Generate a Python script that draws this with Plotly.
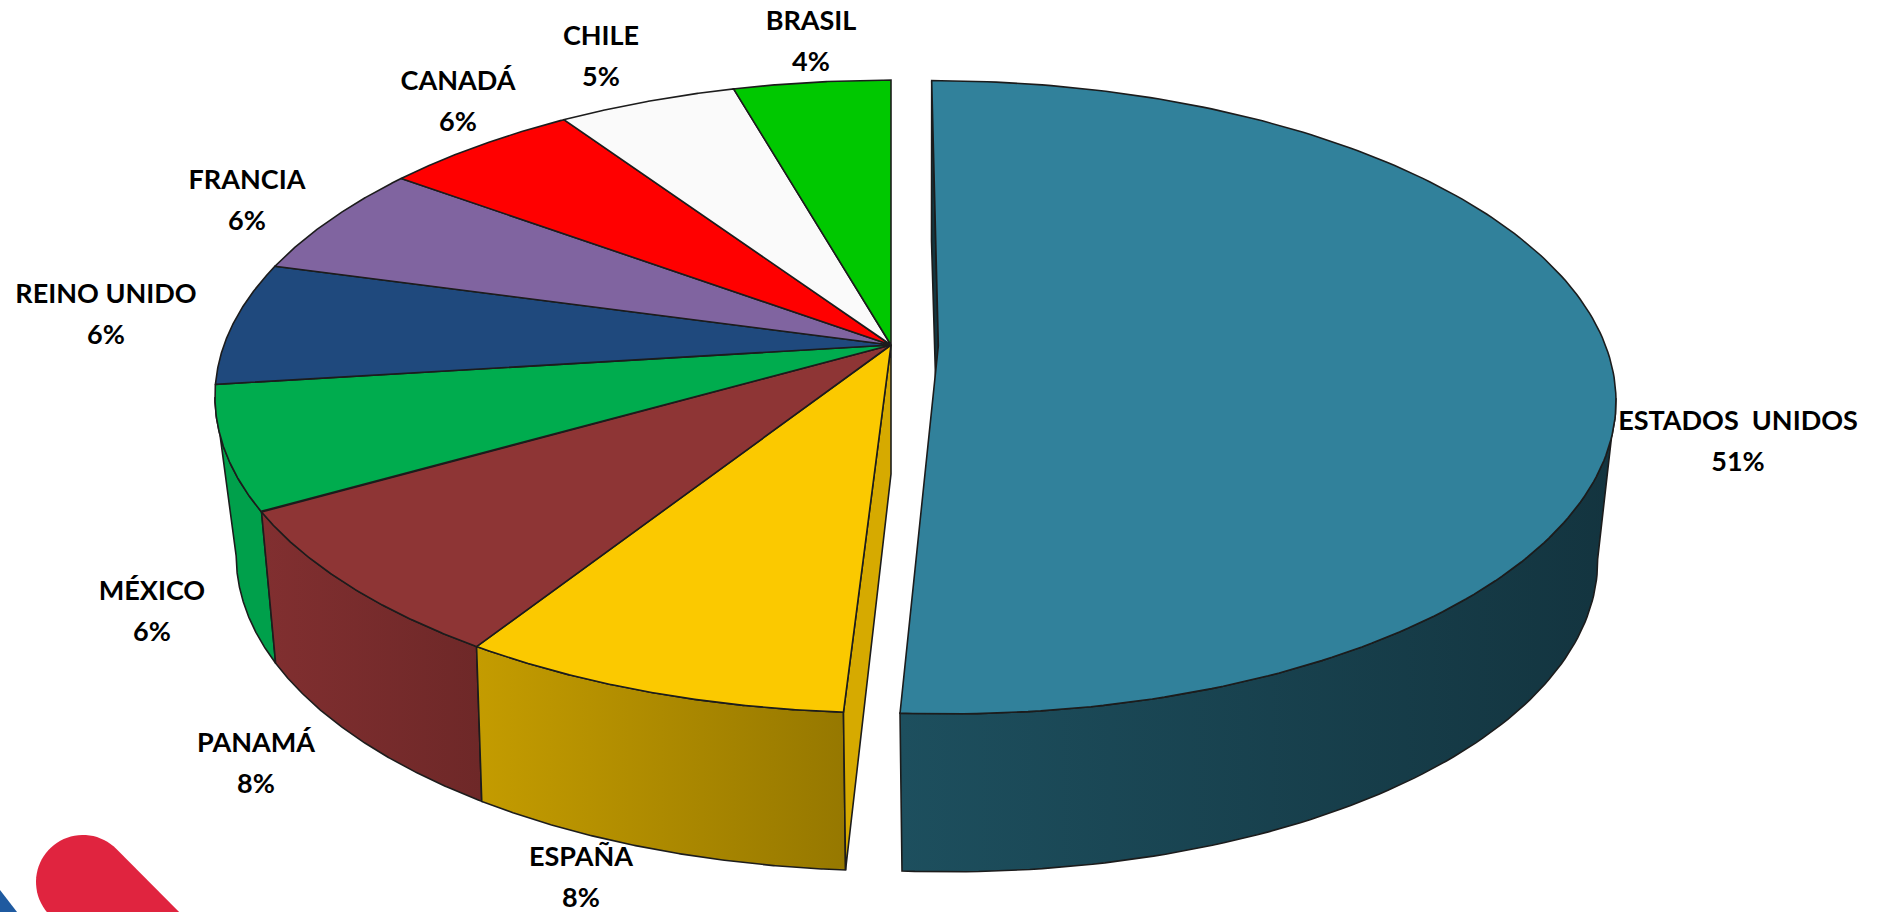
import numpy as np
import plotly.graph_objects as go

# ---- data ----
countries = ["ESTADOS  UNIDOS", "ESPAÑA", "PANAMÁ", "MÉXICO", "REINO UNIDO",
             "FRANCIA", "CANADÁ", "CHILE", "BRASIL"]
shares = [50.95, 8.05, 7.7, 6.3, 6.3, 5.8, 5.5, 5.0, 4.4]
shown_pct = ["51%", "8%", "8%", "6%", "6%", "6%", "6%", "5%", "4%"]

# ---- styling ----
top_colors = ["#31819B", "#FBC900", "#8E3535", "#00AC4E", "#1F497D",
              "#8064A0", "#FF0000", "#FAFAFA", "#00C800"]
side_colors = {0: ("#1D4F5E", "#13343F"), 1: ("#C49C00", "#967800"),
               2: ("#812F30", "#6E2828"), 3: ("#00A04B", "#00A04B")}
wall_color = {0: "#14363F", 1: "#D6AA00"}
EDGE = "#1c1c1c"
label_xy = {0: (1738, 423), 1: (581, 859), 2: (256, 745), 3: (152, 593), 4: (106, 296),
            5: (247, 182), 6: (458, 83), 7: (601, 38), 8: (811, 23)}
LINE_GAP = 41

# ---- oblique perspective projection of the pie ----
TOP = dict(x0=891.0, y0=345.0, a=667.0, b=308.0, k=0.163)
BOT = dict(x0=893.0, y0=496.0, a=645.0, b=304.0, k=0.189)
EXPLODE = 0.071
WALL_FOOT_Y = 474.0


def project(u, v, p):
    w = 1 - p["k"] * v
    return p["x0"] + p["a"] * u / w, p["y0"] + p["b"] * v / w


fig = go.Figure()


def poly(x, y, fill=None, grad=None, width=1.6):
    kw = dict(fillgradient=dict(type="horizontal",
                                colorscale=[[0, grad[0]], [1, grad[1]]])) if grad else dict(fillcolor=fill)
    fig.add_trace(go.Scatter(x=np.r_[x, x[0]], y=np.r_[y, y[0]], mode="lines", fill="toself",
                             line=dict(color=EDGE, width=width), hoverinfo="skip", **kw))


total = sum(shares)
edges = np.r_[0, np.cumsum(shares)] / total * 2 * np.pi
mids = (edges[:-1] + edges[1:]) / 2


def arc(i, n=200):
    th = np.linspace(edges[i], edges[i + 1], n)
    off = EXPLODE if i == 0 else 0.0
    ou, ov = off * np.sin(mids[i]), -off * np.cos(mids[i])
    return th, ou, ov


def rim(th, ou, ov, p):
    return project(ou + np.sin(th), ov - np.cos(th), p)


# outer side faces, back to front; each rim is cut at its own silhouette point
for i in [3, 2, 0, 1]:
    th, ou, ov = arc(i)
    tt = th[-np.cos(th) >= TOP["k"]]
    tb = th[-np.cos(th) >= BOT["k"]]
    tx, ty = rim(tt, ou, ov, TOP)
    bx, by = rim(tb, ou, ov, BOT)
    poly(np.r_[tx, bx[::-1]], np.r_[ty, by[::-1]], grad=side_colors[i])

# inner cut walls of the exploded gap
for i, th0 in [(1, edges[1]), (0, edges[0])]:
    _, ou, ov = arc(i)
    rx, ry = rim(np.array([th0]), ou, ov, TOP)
    qx, qy = rim(np.array([th0]), ou, ov, BOT)
    ax, ay = project(ou, ov, TOP)
    poly(np.r_[ax, rx, qx, ax], np.r_[ay, ry, qy, WALL_FOOT_Y], fill=wall_color[i])

# top faces
for i in range(len(shares)):
    th, ou, ov = arc(i)
    rx, ry = rim(th, ou, ov, TOP)
    ax, ay = project(ou, ov, TOP)
    poly(np.r_[ax, rx], np.r_[ay, ry], fill=top_colors[i])

# labels
font = dict(family="Lato", size=27, color="#000000", weight=700)
lx = [label_xy[i][0] for i in range(len(countries))]
ly = [label_xy[i][1] for i in range(len(countries))]
fig.add_trace(go.Scatter(x=lx, y=ly, mode="text", text=[c.replace(" ", "\u00a0") for c in countries],
                         textposition="middle center", textfont=font, hoverinfo="skip"))
fig.add_trace(go.Scatter(x=lx, y=[v + LINE_GAP for v in ly], mode="text", text=shown_pct,
                         textposition="middle center", textfont=font, hoverinfo="skip"))

# corner logo fragment: a rounded diagonal bar and a blue corner
cap = np.radians(np.linspace(135, 315, 40))
pill_x = np.r_[83 + 47 * np.cos(cap), 202, 136]
pill_y = np.r_[882 + 47 * np.sin(cap), 935, 1001]
pill_path = "M " + " L ".join(f"{a:.1f},{b:.1f}" for a, b in zip(pill_x, pill_y)) + " Z"
shapes = [
    dict(type="path", xref="x", yref="y", line=dict(width=0), fillcolor="#E0243F", layer="above",
         path=pill_path),
    dict(type="path", xref="x", yref="y", line=dict(width=0), fillcolor="#1F5AA0", layer="above",
         path="M 0,890 L 17,912 L 0,912 Z"),
]

fig.update_layout(
    width=1883, height=912, margin=dict(l=0, r=0, t=0, b=0), showlegend=False,
    paper_bgcolor="white", plot_bgcolor="white", shapes=shapes,
    xaxis=dict(range=[0, 1883], visible=False, fixedrange=True),
    yaxis=dict(range=[912, 0], visible=False, fixedrange=True),
)
fig.write_html("out.html", config=dict(displayModeBar=False),
               post_script="document.body.style.margin='0';document.body.style.overflow='hidden';")
